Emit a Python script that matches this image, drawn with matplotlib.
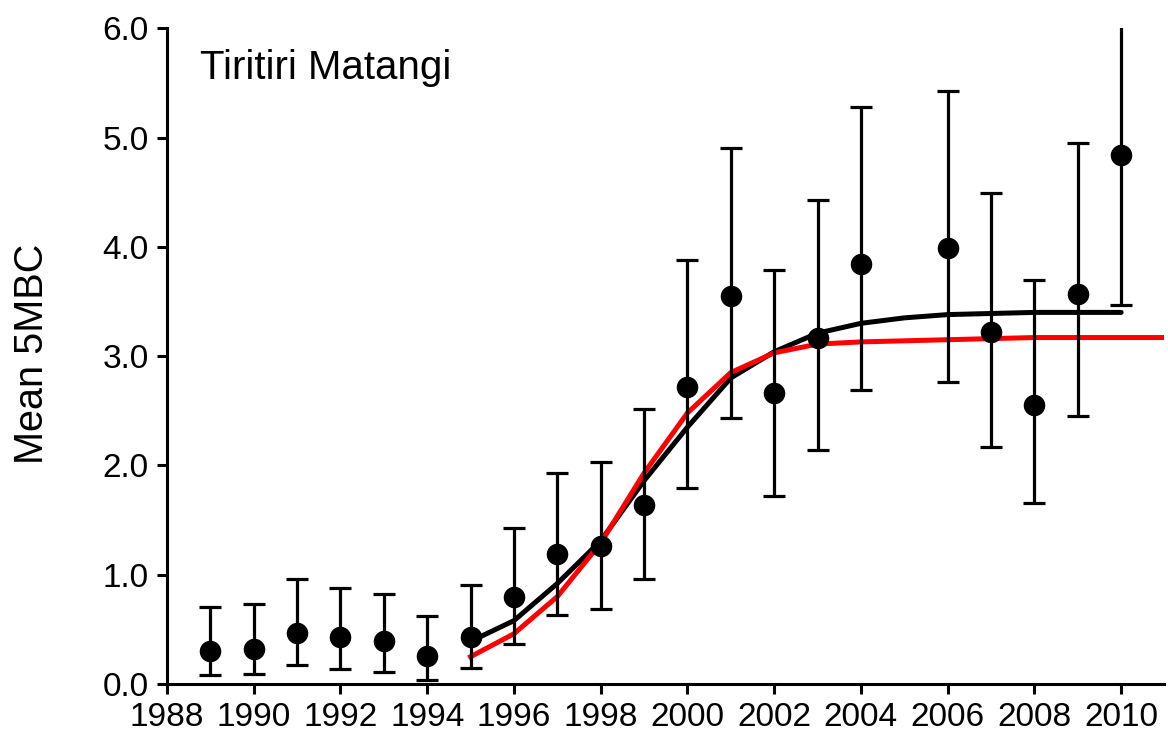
import numpy as np
import matplotlib.pyplot as plt

plt.rcParams['font.family'] = ['Liberation Sans', 'DejaVu Sans']

# Yearly means with error bar limits
years = [1989, 1990, 1991, 1992, 1993, 1994, 1995, 1996, 1997, 1998, 1999,
         2000, 2001, 2002, 2003, 2004, 2006, 2007, 2008, 2009, 2010]
mean_5mbc = [0.30, 0.32, 0.47, 0.43, 0.39, 0.26, 0.43, 0.80, 1.19, 1.26, 1.64,
             2.72, 3.55, 2.66, 3.17, 3.84, 3.99, 3.22, 2.55, 3.57, 4.84]
upper = [0.70, 0.73, 0.96, 0.88, 0.82, 0.62, 0.91, 1.43, 1.93, 2.03, 2.52,
         3.88, 4.90, 3.79, 4.43, 5.28, 5.43, 4.49, 3.70, 4.95, 6.40]
lower = [0.08, 0.09, 0.17, 0.14, 0.11, 0.04, 0.15, 0.37, 0.63, 0.69, 0.96,
         1.79, 2.43, 1.72, 2.14, 2.69, 2.76, 2.17, 1.66, 2.45, 3.47]

# Fitted curves
fit_black_years = list(range(1995, 2011))
fit_black = [0.39, 0.58, 0.92, 1.31, 1.86, 2.35, 2.80, 3.04, 3.21, 3.30,
             3.35, 3.38, 3.39, 3.40, 3.40, 3.40]
fit_red_years = list(range(1995, 2012))
fit_red = [0.25, 0.46, 0.80, 1.29, 1.93, 2.48, 2.85, 3.03, 3.11, 3.13,
           3.14, 3.15, 3.16, 3.17, 3.17, 3.17, 3.17]

m = np.array(mean_5mbc)
yerr = [m - np.array(lower), np.array(upper) - m]

fig = plt.figure(figsize=(11.68, 7.43), dpi=100)
ax = fig.add_axes([0.143, 0.0794, 0.854, 0.8826])

ax.plot(fit_black_years, fit_black, color='black', lw=3.6,
        solid_capstyle='round', zorder=2)
ax.plot(fit_red_years, fit_red, color='#ff0000', lw=3.6, zorder=2)
ax.errorbar(years, mean_5mbc, yerr=yerr, fmt='o', color='black',
            markersize=14.5, elinewidth=2.3, capsize=8, capthick=2.3, zorder=3)

ax.set_xlim(1988, 2011)
ax.set_ylim(0, 6)
ax.set_xticks(range(1988, 2011, 2))
ax.set_yticks(np.arange(0, 6.1, 1.0))
ax.set_yticklabels([f'{v:.1f}' for v in np.arange(0, 6.1, 1.0)])

for side in ['top', 'right']:
    ax.spines[side].set_visible(False)
for side in ['left', 'bottom']:
    ax.spines[side].set_linewidth(2.2)
ax.tick_params(direction='out', length=7, width=2.2, pad=6)
ax.tick_params(axis='x', labelsize=24)
ax.tick_params(axis='y', labelsize=24)

fig.text(32 / 1168, 1 - 354 / 743, 'Mean 5MBC', fontsize=28.5,
         rotation=90, ha='center', va='center')
ax.text(1988.77, 5.535, 'Tiritiri Matangi', fontsize=29, va='baseline')

fig.savefig('out.png', dpi=100)
